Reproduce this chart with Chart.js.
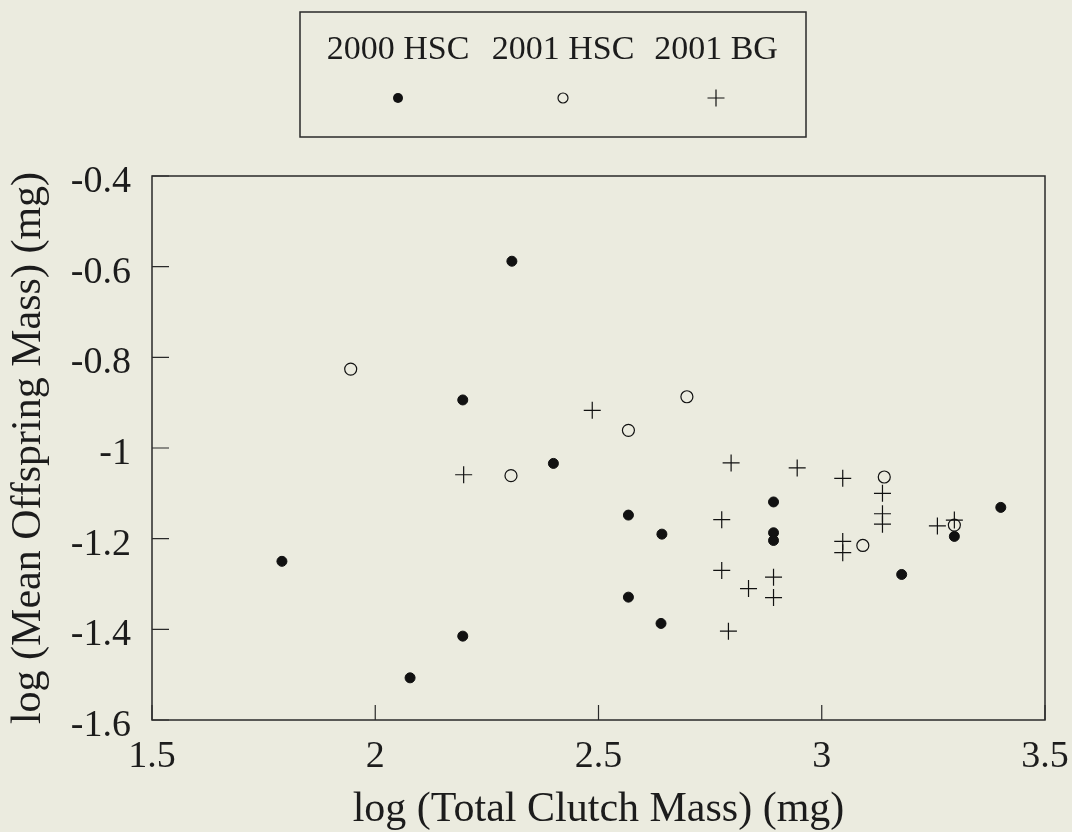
<!DOCTYPE html>
<html>
<head>
<meta charset="utf-8">
<script src="https://cdn.jsdelivr.net/npm/chart.js@4.4.0/dist/chart.umd.min.js"></script>
<style>
  html, body { margin: 0; padding: 0; background: #ebebdf; }
  #wrap { width: 1072px; height: 832px; position: relative; }
</style>
</head>
<body>
<div id="wrap"><canvas id="c" width="1072" height="832"></canvas></div>
<script>
// ---- data ----
const seriesNames = ['2000 HSC', '2001 HSC', '2001 BG'];

const hsc2000X = [2.306, 2.196, 2.399, 1.791, 2.196, 2.078, 2.567, 2.642, 2.892, 2.892, 2.892, 2.567, 2.640, 3.179, 3.297, 3.401];
const hsc2000Y = [-0.588, -0.894, -1.034, -1.250, -1.415, -1.507, -1.148, -1.190, -1.119, -1.187, -1.204, -1.329, -1.387, -1.279, -1.195, -1.131];

const hsc2001X = [1.945, 2.304, 2.698, 2.567, 3.140, 3.092, 3.297];
const hsc2001Y = [-0.826, -1.061, -0.887, -0.961, -1.064, -1.215, -1.170];

const bg2001X = [2.486, 2.198, 2.797, 2.945, 3.047, 3.136, 3.136, 3.136, 2.776, 3.047, 3.047, 3.259, 3.297, 2.776, 2.836, 2.892, 2.892, 2.791];
const bg2001Y = [-0.917, -1.059, -1.033, -1.044, -1.067, -1.100, -1.145, -1.168, -1.158, -1.206, -1.231, -1.172, -1.159, -1.270, -1.310, -1.285, -1.330, -1.404];

const xTickValues = [1.5, 2, 2.5, 3, 3.5];
const xTickLabels = ['1.5', '2', '2.5', '3', '3.5'];
const yTickValues = [-1.6, -1.4, -1.2, -1, -0.8, -0.6, -0.4];
const yTickLabels = ['-1.6', '-1.4', '-1.2', '-1', '-0.8', '-0.6', '-0.4'];

const xTitle = 'log (Total Clutch Mass) (mg)';
const yTitle = 'log (Mean Offspring Mass) (mg)';

// ---- helpers ----
function pts(xs, ys) { return xs.map((x, i) => ({ x: x, y: ys[i] })); }
function labelFor(values, labels, v) {
  let best = 0, d = Infinity;
  values.forEach((tv, i) => { const dd = Math.abs(tv - v); if (dd < d) { d = dd; best = i; } });
  return d < 1e-6 ? labels[best] : '';
}

const FONT = '"Liberation Serif", "Times New Roman", Times, serif';
const INK = '#1c1c1c';
const BG = '#ebebdf';

const bgPlugin = {
  id: 'bgPlugin',
  beforeDraw(chart) {
    const ctx = chart.ctx;
    ctx.save();
    ctx.fillStyle = BG;
    ctx.fillRect(0, 0, chart.width, chart.height);
    ctx.restore();
  }
};

const framePlugin = {
  id: 'framePlugin',
  beforeDatasetsDraw(chart) {
    const ctx = chart.ctx;
    const a = chart.chartArea;
    const xs = chart.scales.x, ys = chart.scales.y;
    ctx.save();
    ctx.strokeStyle = '#2a2a2a';
    ctx.lineWidth = 1.5;
    ctx.strokeRect(a.left, a.top, a.right - a.left, a.bottom - a.top);
    ctx.lineWidth = 1.2;
    ctx.beginPath();
    ys.ticks.forEach(t => {
      const p = ys.getPixelForValue(t.value);
      ctx.moveTo(a.left, p); ctx.lineTo(a.left + 17, p);
    });
    xs.ticks.forEach(t => {
      const p = xs.getPixelForValue(t.value);
      ctx.moveTo(p, a.bottom); ctx.lineTo(p, a.bottom - 15);
    });
    ctx.stroke();
    ctx.restore();
  }
};

const boxLegendPlugin = {
  id: 'boxLegend',
  afterDraw(chart, args, opts) {
    const ctx = chart.ctx;
    ctx.save();
    ctx.strokeStyle = '#2a2a2a';
    ctx.lineWidth = 1.5;
    ctx.strokeRect(opts.left, opts.top, opts.right - opts.left, opts.bottom - opts.top);
    ctx.fillStyle = INK;
    ctx.font = opts.fontSize + 'px ' + FONT;
    ctx.textAlign = 'center';
    ctx.textBaseline = 'middle';
    chart.data.datasets.forEach((ds, i) => {
      const cx = opts.centers[i];
      ctx.fillStyle = INK;
      ctx.fillText(ds.label, cx, opts.textY);
      const my = opts.markerY;
      ctx.strokeStyle = '#111';
      ctx.fillStyle = '#111';
      if (ds.pointStyle === 'cross') {
        const r = 8.5;
        ctx.lineWidth = 1.2;
        ctx.beginPath();
        ctx.moveTo(cx - r, my); ctx.lineTo(cx + r, my);
        ctx.moveTo(cx, my - r); ctx.lineTo(cx, my + r);
        ctx.stroke();
      } else {
        ctx.beginPath();
        ctx.arc(cx, my, 5, 0, Math.PI * 2);
        if (ds.backgroundColor === 'rgba(0,0,0,0)') {
          ctx.lineWidth = 1.2; ctx.stroke();
        } else {
          ctx.fill();
        }
      }
    });
    ctx.restore();
  }
};

new Chart(document.getElementById('c'), {
  type: 'scatter',
  data: {
    datasets: [
      { label: seriesNames[0], data: pts(hsc2000X, hsc2000Y), pointStyle: 'circle', pointRadius: 5, borderWidth: 1,
        backgroundColor: '#111', borderColor: '#111' },
      { label: seriesNames[1], data: pts(hsc2001X, hsc2001Y), pointStyle: 'circle', pointRadius: 6, borderWidth: 1.2,
        backgroundColor: 'rgba(0,0,0,0)', borderColor: '#111' },
      { label: seriesNames[2], data: pts(bg2001X, bg2001Y), pointStyle: 'cross', pointRadius: 8.5, borderWidth: 1.2,
        backgroundColor: '#111', borderColor: '#111' }
    ]
  },
  options: {
    responsive: false,
    animation: false,
    events: [],
    layout: { padding: { left: 0, right: 27, top: 176, bottom: 0 } },
    plugins: {
      legend: { display: false },
      tooltip: { enabled: false },
      boxLegend: {
        left: 300, right: 806, top: 12, bottom: 137,
        centers: [398, 563, 716],
        textY: 50, markerY: 98, fontSize: 34
      }
    },
    scales: {
      x: {
        type: 'linear',
        min: 1.5, max: 3.5,
        afterFit: s => { s.height = 112; s.paddingRight = 0; s.paddingLeft = 0; },
        grid: { display: false },
        border: { display: false },
        ticks: {
          stepSize: 0.5,
          padding: 6,
          maxRotation: 0,
          autoSkip: false,
          color: INK,
          font: { family: FONT, size: 38, lineHeight: 1.2 },
          callback: v => labelFor(xTickValues, xTickLabels, v)
        },
        title: {
          display: true, text: xTitle, color: INK,
          font: { family: FONT, size: 42, lineHeight: 1 },
          padding: { top: 0, bottom: 1 }
        }
      },
      y: {
        type: 'linear',
        min: -1.6, max: -0.4,
        afterFit: s => { s.width = 152; s.paddingTop = 0; s.paddingBottom = 0; },
        grid: { display: false },
        border: { display: false },
        ticks: {
          stepSize: 0.2,
          padding: 13,
          labelOffset: 6,
          autoSkip: false,
          color: INK,
          font: { family: FONT, size: 38, lineHeight: 1.2 },
          callback: v => labelFor(yTickValues, yTickLabels, v)
        },
        title: {
          display: true, text: yTitle, color: INK,
          font: { family: FONT, size: 42, lineHeight: 1 },
          padding: { top: 8, bottom: 0 }
        }
      }
    }
  },
  plugins: [bgPlugin, framePlugin, boxLegendPlugin]
});
</script>
</body>
</html>
